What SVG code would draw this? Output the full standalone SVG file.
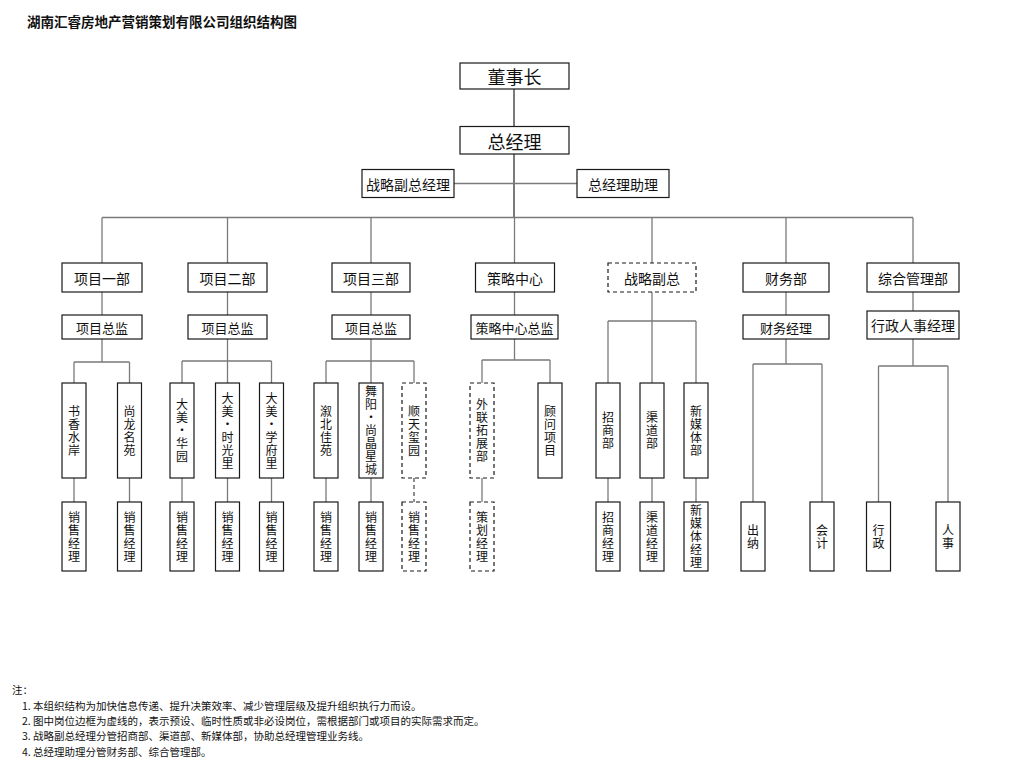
<svg xmlns="http://www.w3.org/2000/svg" width="1021" height="773" viewBox="0 0 1021 773">
<style>
text{font-family:"Noto Sans CJK SC","Liberation Sans",sans-serif;fill:#111}
.b{fill:#fff;stroke:#1a1a1a;stroke-width:1.2}
.d{fill:#fff;stroke:#1a1a1a;stroke-width:1.2;stroke-dasharray:4 3}
.c{fill:none;stroke:#7a7a7a;stroke-width:1.3}
.k{fill:none;stroke:#222;stroke-width:1.2}
.cd{fill:none;stroke:#444;stroke-width:1.2;stroke-dasharray:4 3}
.h{text-anchor:middle;dominant-baseline:central}
.f18{font-size:18px}
.f14{font-size:14px}
.f13{font-size:13px}
.v{font-size:12px;writing-mode:vertical-rl;text-orientation:upright;letter-spacing:1px;text-anchor:middle}
.n{font-size:10.5px}
</style>
<rect width="1021" height="773" fill="#fff"/>
<text x="27" y="27" font-size="13.5" font-weight="bold">湖南汇睿房地产营销策划有限公司组织结构图</text>

<g id="connectors">
<path class="k" d="M514 89V217"/>
<path class="c" d="M454 183.5H577"/>
<path class="c" d="M102 217.5H913"/>
<path class="c" d="M102 217.5V263M227.5 217.5V263M371 217.5V263M514.5 217.5V263M652 217.5V263M786 217.5V263M913 217.5V263"/>
<path class="c" d="M102 292V315M227.5 292V315M371 292V315M514.5 292V315M786 292V315M913 292V311"/>
<path class="c" d="M102 339V362M74 362H129.5M74 362V383M129.5 362V383"/>
<path class="c" d="M227.5 339V383M182 361H271.5M182 361V383M271.5 361V383"/>
<path class="c" d="M371 339V383M326 361H414M326 361V383M414 361V383"/>
<path class="c" d="M514.5 339V360M482 360H550M482 360V383M550 360V383"/>
<path class="c" d="M652 292V383M608 321H696M608 321V383M696 321V383"/>
<path class="c" d="M786 339V364M753 364H822M753 364V502M822 364V502"/>
<path class="c" d="M913 339V366M878.5 366H948M878.5 366V502M948 366V502"/>
<path class="c" d="M74 478V502M129.5 478V502M182 478V502M227.5 478V502M271.5 478V502M326 478V502M371 478V502M482 478V502M608 478V502M652 478V502M696 478V502"/>
<path class="cd" d="M414 478V502"/>
</g>

<g id="n-dsz"><rect class="b" x="460" y="63" width="109" height="26"/><text class="h f18" x="514.5" y="76">董事长</text></g>
<g id="n-zjl"><rect class="b" x="460" y="126.5" width="109" height="27.5"/><text class="h f18" x="514.5" y="140.5">总经理</text></g>
<g id="n-zlfzjl"><rect class="b" x="362" y="169.5" width="92" height="28"/><text class="h f14" x="408" y="183.5">战略副总经理</text></g>
<g id="n-zjlzl"><rect class="b" x="577" y="169.5" width="92" height="28"/><text class="h f14" x="623" y="183.5">总经理助理</text></g>

<g id="n-xm1"><rect class="b" x="62" y="263" width="80" height="29"/><text class="h f14" x="102" y="277.5">项目一部</text></g>
<g id="n-xm2"><rect class="b" x="188" y="263" width="79" height="29"/><text class="h f14" x="227.5" y="277.5">项目二部</text></g>
<g id="n-xm3"><rect class="b" x="332" y="263" width="78" height="29"/><text class="h f14" x="371" y="277.5">项目三部</text></g>
<g id="n-clzx"><rect class="b" x="475.5" y="263" width="79" height="29"/><text class="h f14" x="515" y="277.5">策略中心</text></g>
<g id="n-zlfz"><rect class="d" x="608" y="263" width="88" height="29"/><text class="h f14" x="652" y="277.5">战略副总</text></g>
<g id="n-cwb"><rect class="b" x="743" y="263" width="86" height="29"/><text class="h f14" x="786" y="277.5">财务部</text></g>
<g id="n-zhglb"><rect class="b" x="867" y="263" width="92" height="29"/><text class="h f14" x="913" y="277.5">综合管理部</text></g>

<g id="n-xmzj1"><rect class="b" x="62" y="315" width="80" height="24"/><text class="h f13" x="102" y="327">项目总监</text></g>
<g id="n-xmzj2"><rect class="b" x="188" y="315" width="79" height="24"/><text class="h f13" x="227.5" y="327">项目总监</text></g>
<g id="n-xmzj3"><rect class="b" x="332" y="315" width="78" height="24"/><text class="h f13" x="371" y="327">项目总监</text></g>
<g id="n-clzxzj"><rect class="b" x="471" y="315" width="87" height="24"/><text class="h f13" x="514.5" y="327">策略中心总监</text></g>
<g id="n-cwjl"><rect class="b" x="743" y="315" width="86" height="24"/><text class="h f13" x="786" y="327">财务经理</text></g>
<g id="n-xzrsjl"><rect class="b" x="867" y="311" width="92" height="28"/><text class="h f14" x="913" y="325">行政人事经理</text></g>

<g id="n-sxsa"><rect class="b" x="62" y="383" width="24" height="95"/><text class="v" x="74" y="431">书香水岸</text></g>
<g id="n-slmy"><rect class="b" x="117.5" y="383" width="24" height="95"/><text class="v" x="129.5" y="431">尚龙名苑</text></g>
<g id="n-dmhy"><rect class="b" x="170" y="383" width="24" height="95"/><text class="v" x="182" y="431">大美·华园</text></g>
<g id="n-dmsgl"><rect class="b" x="215.5" y="383" width="24" height="95"/><text class="v" x="227.5" y="431">大美·时光里</text></g>
<g id="n-dmxfl"><rect class="b" x="259.5" y="383" width="24" height="95"/><text class="v" x="271.5" y="431">大美·学府里</text></g>
<g id="n-xbjy"><rect class="b" x="314" y="383" width="24" height="95"/><text class="v" x="326" y="431">溆北佳苑</text></g>
<g id="n-wysj"><rect class="b" x="359" y="383" width="24" height="95"/><text class="v" x="371" y="431">舞阳·尚晶星城</text></g>
<g id="n-stxy"><rect class="d" x="402" y="383" width="24" height="95"/><text class="v" x="414" y="431">顺天玺园</text></g>
<g id="n-wltzb"><rect class="d" x="470" y="383" width="24" height="95"/><text class="v" x="482" y="431">外联拓展部</text></g>
<g id="n-gwxm"><rect class="b" x="538" y="383" width="24" height="95"/><text class="v" x="550" y="431">顾问项目</text></g>
<g id="n-zsb"><rect class="b" x="596" y="383" width="24" height="95"/><text class="v" x="608" y="430.5">招商部</text></g>
<g id="n-qdb"><rect class="b" x="640" y="383" width="24" height="95"/><text class="v" x="652" y="430.5">渠道部</text></g>
<g id="n-xmtb"><rect class="b" x="684" y="383" width="24" height="95"/><text class="v" x="696" y="431">新媒体部</text></g>

<g id="n-xsjl1"><rect class="b" x="62" y="502" width="24" height="69"/><text class="v" x="74" y="537">销售经理</text></g>
<g id="n-xsjl2"><rect class="b" x="117.5" y="502" width="24" height="69"/><text class="v" x="129.5" y="537">销售经理</text></g>
<g id="n-xsjl3"><rect class="b" x="170" y="502" width="24" height="69"/><text class="v" x="182" y="537">销售经理</text></g>
<g id="n-xsjl4"><rect class="b" x="215.5" y="502" width="24" height="69"/><text class="v" x="227.5" y="537">销售经理</text></g>
<g id="n-xsjl5"><rect class="b" x="259.5" y="502" width="24" height="69"/><text class="v" x="271.5" y="537">销售经理</text></g>
<g id="n-xsjl6"><rect class="b" x="314" y="502" width="24" height="69"/><text class="v" x="326" y="537">销售经理</text></g>
<g id="n-xsjl7"><rect class="b" x="359" y="502" width="24" height="69"/><text class="v" x="371" y="537">销售经理</text></g>
<g id="n-xsjl8"><rect class="d" x="402" y="502" width="24" height="69"/><text class="v" x="414" y="537">销售经理</text></g>
<g id="n-chjl"><rect class="d" x="470" y="502" width="24" height="69"/><text class="v" x="482" y="537">策划经理</text></g>
<g id="n-zsjl"><rect class="b" x="596" y="502" width="24" height="69"/><text class="v" x="608" y="537">招商经理</text></g>
<g id="n-qdjl"><rect class="b" x="640" y="502" width="24" height="69"/><text class="v" x="652" y="537">渠道经理</text></g>
<g id="n-xmtjl"><rect class="b" x="684" y="502" width="24" height="69"/><text class="v" x="696" y="537">新媒体经理</text></g>
<g id="n-cn"><rect class="b" x="741" y="502" width="24" height="69"/><text class="v" x="753" y="537">出纳</text></g>
<g id="n-kj"><rect class="b" x="810" y="502" width="24" height="69"/><text class="v" x="822" y="537">会计</text></g>
<g id="n-xz"><rect class="b" x="866.5" y="502" width="24" height="69"/><text class="v" x="878.5" y="537">行政</text></g>
<g id="n-rs"><rect class="b" x="936" y="502" width="24" height="69"/><text class="v" x="948" y="537">人事</text></g>

<g id="notes">
<text class="n" x="12" y="694">注：</text>
<text class="n" x="22" y="710">1. 本组织结构为加快信息传递、提升决策效率、减少管理层级及提升组织执行力而设。</text>
<text class="n" x="22" y="725">2. 图中岗位边框为虚线的，表示预设、临时性质或非必设岗位，需根据部门或项目的实际需求而定。</text>
<text class="n" x="22" y="740">3. 战略副总经理分管招商部、渠道部、新媒体部，协助总经理管理业务线。</text>
<text class="n" x="22" y="756">4. 总经理助理分管财务部、综合管理部。</text>
</g>
</svg>
